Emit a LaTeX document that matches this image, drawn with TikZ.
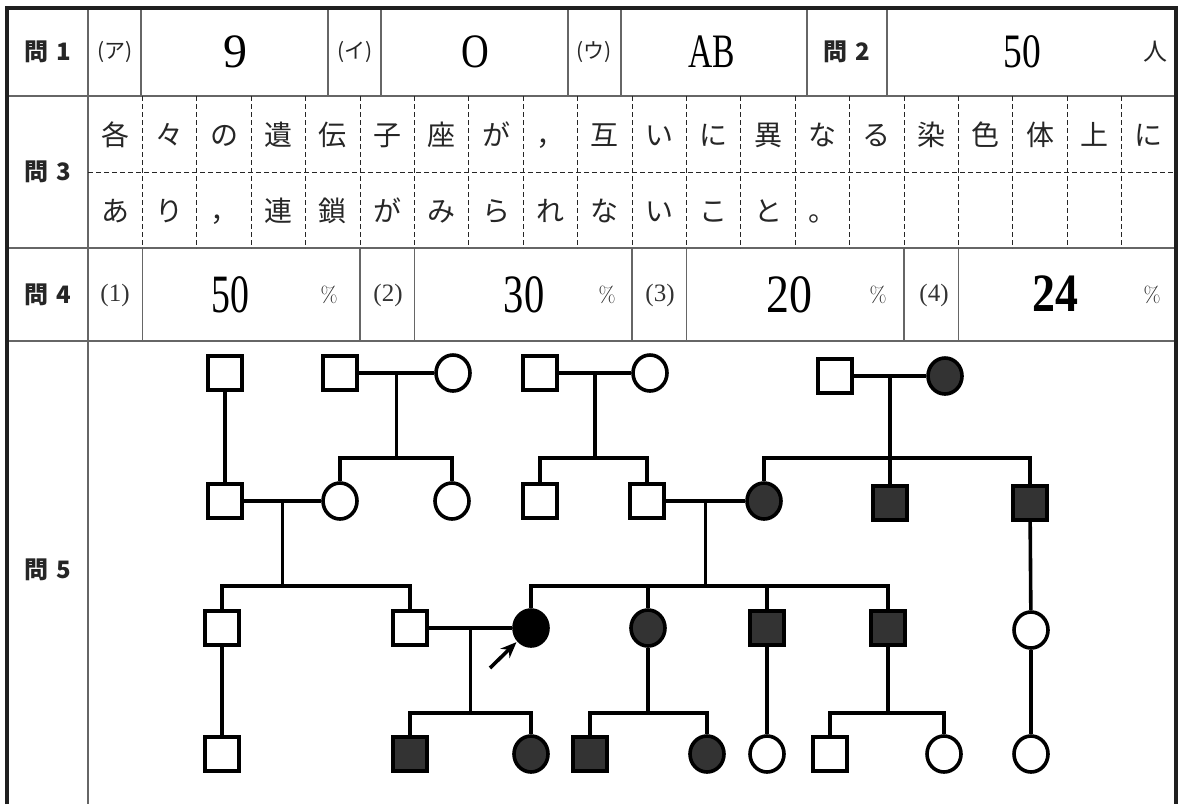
\documentclass[tikz,border=0pt]{standalone}
\usepackage{fontspec}
\newfontfamily\jpfont{Noto Sans CJK JP}
\newfontfamily\numfont{Liberation Serif}
\usetikzlibrary{calc,shapes.geometric,arrows.meta}
\newcommand{\cond}[2]{\scalebox{#1}[1]{#2}}

\begin{document}
\begin{tikzpicture}[x=1pt,y=-1pt,
	every node/.style={inner sep=0pt},
	outerline/.style={line width=3.2pt,black!88},
	rule/.style={line width=1.3pt,black!60},
	gridline/.style={line width=0.9pt,black!85,dash pattern=on 5pt off 3pt},
	qlabel/.style={font=\jpfont\bfseries\fontsize{24}{24}\selectfont,black!85},
	subno/.style={font=\jpfont\fontsize{21}{21}\selectfont,black!85},
	subnum/.style={font=\numfont\fontsize{25}{25}\selectfont,black!80},
	answer/.style={font=\numfont\fontsize{48}{48}\selectfont},
	bignum/.style={font=\numfont\fontsize{54}{54}\selectfont},
	pct/.style={font=\fontsize{22}{22}\selectfont,black!85},
	jpunit/.style={font=\jpfont\fontsize{24}{24}\selectfont,black!85},
	kanji/.style={font=\jpfont\fontsize{28}{28}\selectfont,text height=24.6pt,text depth=3.4pt,black!85},
	malenode/.style={draw,rectangle,minimum size=34pt,line width=3.6pt},
	femalenode/.style={draw,ellipse,minimum width=34pt,minimum height=36pt,line width=3.6pt},
	affnode/.style={fill=black!80},
	probandnode/.style={fill=black},
	pedline/.style={line width=3.6pt},
	]

	\fill[white] (0,0) rectangle (1183,804);
	\useasboundingbox (0,0) rectangle (1183,804);

	% the table
	\draw[rule] (7,96) -- (1176,96);
	\draw[rule] (7,248) -- (1176,248);
	\draw[rule] (7,341) -- (1176,341);
	\draw[rule] (88,8) -- (88,804);
	\foreach \x in {141,328,381,568,621,807,887}
	\draw[rule] (\x,8) -- (\x,96);
	\foreach \k in {1,5,6,10,11,15,16}
	\draw[rule] ({88+54.4*\k},248) -- ({88+54.4*\k},341);
	\foreach \k in {1,2,...,19}
	\draw[gridline] ({88+54.4*\k},96) -- ({88+54.4*\k},248);
	\draw[gridline] (88,172) -- (1176,172);
	\draw[outerline] (7,804) -- (7,8) -- (1176,8) -- (1176,804);

	% question 1 and 2
	\node[qlabel] (q1) at (48,52) {問\hspace{8pt}1};
	\node[subno] (s1a) at (115,52) {(ア)};
	\node[answer] (a1a) at (235,52) {9};
	\node[subno] (s1b) at (355,52) {(イ)};
	\node[answer] (a1b) at (475,52) {\cond{0.8}{O}};
	\node[subno] (s1c) at (594,52) {(ウ)};
	\node[answer] (a1c) at (712,52) {\cond{0.7}{AB}};
	\node[qlabel] (q2) at (847,52) {問\hspace{8pt}2};
	\node[answer] (a2) at (1022,52) {\cond{0.78}{50}};
	\node[jpunit] (u2) at (1155,52) {人};

	% question 3
	\node[qlabel] (q3) at (48,172) {問\hspace{8pt}3};
	\foreach \ch [count=\i] in {各,々,の,遺,伝,子,座,が,，,互,い,に,異,な,る,染,色,体,上,に}
	\node[kanji] (ka\i) at ({88+54.4*(\i-0.5)},135) {\ch};
	\foreach \ch [count=\i] in {あ,り,，,連,鎖,が,み,ら,れ,な,い,こ,と,。}
	\node[kanji] (kb\i) at ({88+54.4*(\i-0.5)},211) {\ch};

	% question 4
	\node[qlabel] (q4) at (48,295) {問\hspace{8pt}4};
	\node[subnum] (s4a) at (115,295) {(1)};
	\node[bignum] (a4a) at (230,295) {\cond{0.7}{50}};
	\node[pct] (p4a) at (329,295) {\%};
	\node[subnum] (s4b) at (388,295) {(2)};
	\node[bignum] (a4b) at (524,295) {\cond{0.75}{30}};
	\node[pct] (p4b) at (607,295) {\%};
	\node[subnum] (s4c) at (660,295) {(3)};
	\node[bignum] (a4c) at (789,295) {\cond{0.85}{20}};
	\node[pct] (p4c) at (878,295) {\%};
	\node[subnum] (s4d) at (934,295) {(4)};
	\node[bignum] (a4d) at (1055,294) {\cond{0.85}{\bfseries 24}};
	\node[pct] (p4d) at (1152,295) {\%};

	% question 5
	\node[qlabel] (q5) at (48,570) {問\hspace{8pt}5};

	% sibship levels
	\coordinate (lvI) at (0,458);
	\coordinate (lvII) at (0,586);
	\coordinate (lvIII) at (0,713);

	% generation I
	\node[malenode] (i1) at (225,373) {};
	\node[malenode] (i2) at (340,373) {};
	\node[femalenode] (i3) at (453,373) {};
	\node[malenode] (i4) at (540,373) {};
	\node[femalenode] (i5) at (650,373) {};
	\node[malenode] (i6) at (835,376) {};
	\node[femalenode,affnode] (i7) at (945,376) {};

	% generation II
	\node[malenode] (ii1) at (225,501) {};
	\node[femalenode] (ii2) at (340,501) {};
	\node[femalenode] (ii3) at (452,501) {};
	\node[malenode] (ii4) at (540,501) {};
	\node[malenode] (ii5) at (647,501) {};
	\node[femalenode,affnode] (ii6) at (764,501) {};
	\node[malenode,affnode] (ii7) at (890,503) {};
	\node[malenode,affnode] (ii8) at (1030,503) {};

	% generation III
	\node[malenode] (iii1) at (222,628) {};
	\node[malenode] (iii2) at (410,628) {};
	\node[femalenode,probandnode] (iii3) at (531,628) {};
	\node[femalenode,affnode] (iii4) at (648,628) {};
	\node[malenode,affnode] (iii5) at (767,628) {};
	\node[malenode,affnode] (iii6) at (888,628) {};
	\node[femalenode] (iii7) at (1031,630) {};

	% generation IV
	\node[malenode] (iv1) at (222,754) {};
	\node[malenode,affnode] (iv2) at (410,754) {};
	\node[femalenode,affnode] (iv3) at (531,754) {};
	\node[malenode,affnode] (iv4) at (590,754) {};
	\node[femalenode,affnode] (iv5) at (707,754) {};
	\node[femalenode] (iv6) at (767,754) {};
	\node[malenode] (iv7) at (830,754) {};
	\node[femalenode] (iv8) at (944,754) {};
	\node[femalenode] (iv9) at (1031,754) {};

	% matings
	\coordinate (bc) at ($(i2.east)!.5!(i3.west)$);
	\coordinate (de) at ($(i4.east)!.5!(i5.west)$);
	\coordinate (fg) at ($(i6.east)!.5!(i7.west)$);
	\coordinate (hi) at ($(ii1.east)!.5!(ii2.west)$);
	\coordinate (lm) at ($(ii5.east)!.5!(ii6.west)$);
	\coordinate (qr) at ($(iii2.east)!.5!(iii3.west)$);
	\draw[pedline] (i2) -- (i3);
	\draw[pedline] (i4) -- (i5);
	\draw[pedline] (i6) -- (i7);
	\draw[pedline] (ii1) -- (ii2);
	\draw[pedline] (ii5) -- (ii6);
	\draw[pedline] (iii2) -- (iii3);

	% generation I -> II
	\draw[pedline] (i1) -- (ii1);
	\draw[pedline] (bc) -- (bc |- lvI);
	\draw[pedline] (ii2.north) |- (bc |- lvI) -| (ii3.north);
	\draw[pedline] (de) -- (de |- lvI);
	\draw[pedline] (ii4.north) |- (de |- lvI) -| (ii5.north);
	\draw[pedline] (fg) -- (ii7);
	\draw[pedline] (ii6.north) |- (fg |- lvI) -| (ii8.north);

	% generation II -> III
	\draw[pedline] (hi) -- (hi |- lvII);
	\draw[pedline] (iii1.north) |- (hi |- lvII) -| (iii2.north);
	\draw[pedline] (lm) -- (lm |- lvII);
	\draw[pedline] (iii3.north) |- (lm |- lvII) -| (iii6.north);
	\draw[pedline] (iii4.north) -- (iii4 |- lvII);
	\draw[pedline] (iii5.north) -- (iii5 |- lvII);
	\draw[pedline] (ii8) -- (iii7);

	% generation III -> IV
	\draw[pedline] (iii1) -- (iv1);
	\draw[pedline] (qr) -- (qr |- lvIII);
	\draw[pedline] (iv2.north) |- (qr |- lvIII) -| (iv3.north);
	\draw[pedline] (iii4) -- (iii4 |- lvIII);
	\draw[pedline] (iv4.north) |- (iii4 |- lvIII) -| (iv5.north);
	\draw[pedline] (iii5) -- (iv6);
	\draw[pedline] (iii6) -- (iii6 |- lvIII);
	\draw[pedline] (iv7.north) |- (iii6 |- lvIII) -| (iv8.north);
	\draw[pedline] (iii7) -- (iv9);

	% proband
	\coordinate (arr) at (490,668);
	\draw[pedline,-{Stealth[length=16pt,width=13pt]},shorten >=1pt] (arr) -- (iii3);

\end{tikzpicture}
\end{document}
